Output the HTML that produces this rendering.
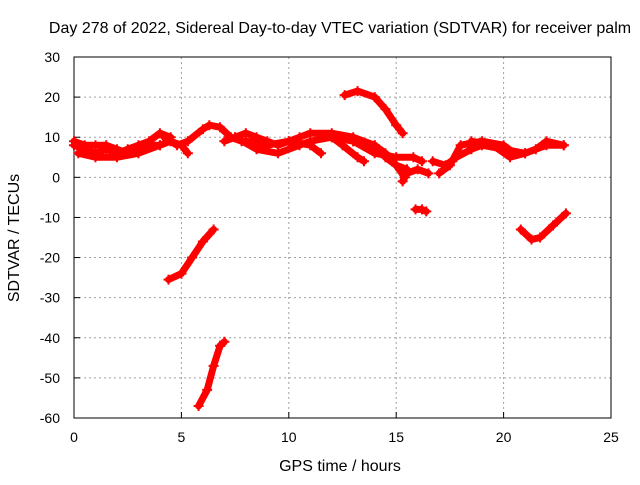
<!DOCTYPE html>
<html><head><meta charset="utf-8"><style>
body{margin:0;background:#fff;}
svg text{font-family:"Liberation Sans",sans-serif;font-size:14px;fill:#000;}
svg text.big{font-size:16px;}
</style></head><body>
<svg id="chart" width="640" height="480" xmlns="http://www.w3.org/2000/svg">
<g id="grid"></g>
<g id="axes"></g>
<g id="series"></g>
<text class="big" x="340" y="33" text-anchor="middle">Day 278 of 2022, Sidereal Day-to-day VTEC variation (SDTVAR) for receiver palm</text>
<text class="big" x="340" y="471" text-anchor="middle">GPS time / hours</text>
<text class="big" x="0" y="0" transform="translate(19,238) rotate(-90)" text-anchor="middle">SDTVAR / TECUs</text>
</svg>
<script>
const xTicks=[0,5,10,15,20,25];
const yTicks=[30,20,10,0,-10,-20,-30,-40,-50,-60];
const track1=[[0,8],[0.5,7],[1,6],[1.5,7],[2,6],[2.5,7],[3,8],[3.5,9],[4,11],[4.5,10]];
const track2=[[0,9],[0.5,8],[1,8],[1.5,8],[2,7],[2.5,6],[3,7],[3.5,8],[4,8],[4.5,9],[5,8],[5.3,6]];
const track3=[[0.2,6],[1,5],[2,5],[3,6],[4,8]];
const track4=[[4.2,10],[4.8,8],[5.3,9],[6,12],[6.3,13],[6.8,12.5],[7.3,10],[7.8,9]];
const track5=[[7,9],[7.5,10],[8,11],[8.5,10],[9,9],[9.5,8],[10,9],[10.5,10],[11,11],[12,11],[13,10],[14,8],[14.5,5],[15,3],[15.5,2]];
const track6=[[8,9],[9,8],[10,9],[11,8],[11.5,6]];
const track7=[[7.5,10],[8.5,7],[9.5,6],[10.5,8],[11,9],[12,10],[12.5,8],[13.2,5],[13.5,4]];
const track8=[[12,10],[13,9],[14,8],[14.5,6],[15,3],[15.4,0],[15.3,-1]];
const track9=[[13,9],[14,6],[15,5],[15.8,5],[16.2,4]];
const track10=[[15,3],[15.5,1],[16,2],[16.5,1]];
const track11=[[12.6,20.5],[13.2,21.5],[14,20],[14.5,17],[15,13],[15.3,11]];
const track12=[[15.9,-8],[16.2,-8],[16.4,-8.5]];
const track13=[[16.7,4],[17.3,3],[17.8,5],[18.5,7],[19,8],[20,7],[21,6],[22,8],[22.8,8]];
const track14=[[17,1],[17.5,3],[18,8],[19,9],[20,8],[20.5,6]];
const track15=[[18.5,9],[19.5,8],[20.3,5],[21,6],[21.5,7],[22,9],[22.8,8]];
const track16=[[20.8,-13],[21.3,-15.5],[21.7,-15],[22.3,-12],[22.9,-9]];
const track17=[[4.4,-25.5],[5,-24],[5.5,-20],[6,-16],[6.5,-13]];
const track18=[[5.8,-57],[6.2,-53],[6.5,-47],[6.8,-42],[7,-41]];
const tracks=[track1,track2,track3,track4,track5,track6,track7,track8,track9,track10,track11,track12,track13,track14,track15,track16,track17,track18];
const L=74,R=611,T=57,B=418;
const xs=v=>L+(v-0)/25*(R-L);
const ys=v=>B-(v+60)/90*(B-T);
const NS='http://www.w3.org/2000/svg';
function mk(tag,at,parent){const e=document.createElementNS(NS,tag);for(const k in at)e.setAttribute(k,at[k]);parent.appendChild(e);return e;}
const grid=document.getElementById('grid'),axes=document.getElementById('axes'),ser=document.getElementById('series');
xTicks.forEach(t=>{const x=xs(t);
 if(t>0&&t<25){const g=mk('line',{x1:x,x2:x,y1:T,y2:B,stroke:'#a0a0a0','stroke-dasharray':'2,3'},grid);
 
 }
 const tk=mk('line',{x1:x,x2:x,y1:B,y2:B-6,stroke:'#000'},axes);
 
 
 const lb=mk('text',{x:x,y:B+24,'text-anchor':'middle'},axes);lb.textContent=t;
 
 });
yTicks.forEach(t=>{const y=ys(t);
 if(t>-60&&t<30){const g=mk('line',{x1:L,x2:R,y1:y,y2:y,stroke:'#a0a0a0','stroke-dasharray':'2,3'},grid);
 
 }
 const tk=mk('line',{x1:L,x2:L+6,y1:y,y2:y,stroke:'#000'},axes);
 
 
 const lb=mk('text',{x:L-14,y:y+5,'text-anchor':'end'},axes);lb.textContent=t;
 
 });
const box=mk('rect',{x:L,y:T,width:R-L,height:B-T,fill:'none',stroke:'#000'},axes);


tracks.forEach(tr=>{
 const pl=mk('polyline',{points:tr.map(p=>xs(p[0])+','+ys(p[1])).join(' '),fill:'none',stroke:'#ff0000','stroke-width':7,'stroke-linejoin':'round','stroke-linecap':'round'},ser);
 
 
 tr.forEach(p=>{const x=xs(p[0]),y=ys(p[1]);
  const m=mk('path',{d:`M${x-5},${y}H${x+5}M${x},${y-5}V${y+5}`,stroke:'#ff0000','stroke-width':2},ser);
  
  });
});
</script>
</body></html>
